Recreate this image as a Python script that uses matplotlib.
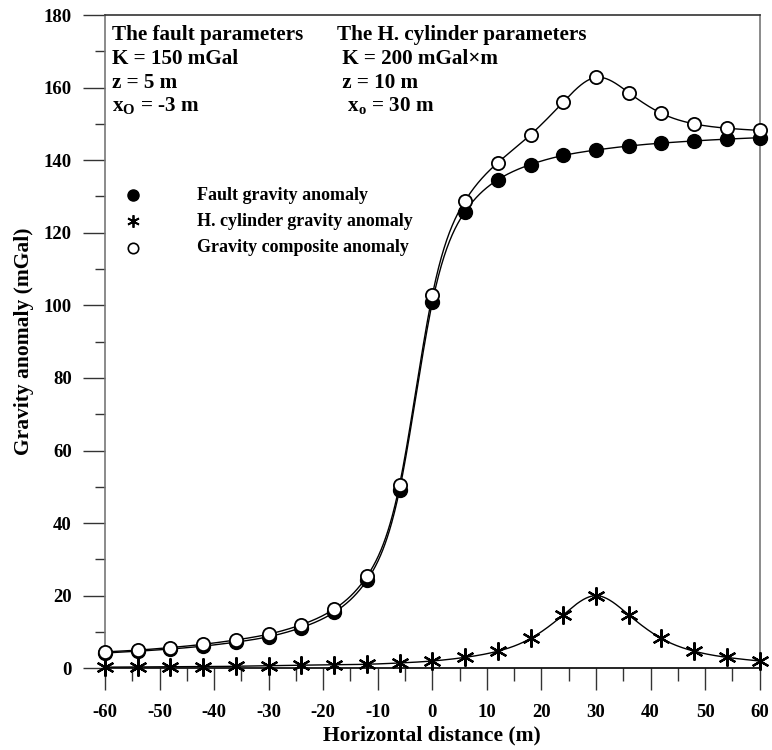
import numpy as np
import matplotlib
matplotlib.use("Agg")
import matplotlib.pyplot as plt
from matplotlib.ticker import MultipleLocator

plt.rcParams['font.family'] = ['Liberation Serif', 'DejaVu Serif']
plt.rcParams['font.weight'] = 'bold'
plt.rcParams['axes.unicode_minus'] = False
plt.rcParams['mathtext.fontset'] = 'custom'
plt.rcParams['mathtext.rm'] = 'Liberation Serif:bold'
plt.rcParams['mathtext.bf'] = 'Liberation Serif:bold'
plt.rcParams['mathtext.it'] = 'Liberation Serif:bold'

# Data
x = [-60, -54, -48, -42, -36, -30, -24, -18, -12, -6, 0, 6, 12, 18, 24, 30, 36, 42, 48, 54, 60]
fault = [4.2, 4.7, 5.3, 6.1, 7.2, 8.7, 11.2, 15.4, 24.2, 49.2, 100.8, 125.8, 134.6, 138.8,
         141.3, 142.8, 143.9, 144.7, 145.3, 145.8, 146.2]
cylinder = [0.3, 0.35, 0.4, 0.45, 0.55, 0.7, 0.85, 0.95, 1.1, 1.45, 2.0, 3.0, 4.7, 8.2,
            14.7, 20.0, 14.7, 8.2, 4.7, 3.0, 2.0]
composite = [4.5, 5.0, 5.7, 6.6, 7.8, 9.4, 12.0, 16.3, 25.3, 50.6, 102.8, 128.8, 139.3, 147.0,
             156.0, 162.8, 158.6, 152.9, 150.0, 148.8, 148.2]

xticks = [-60, -50, -40, -30, -20, -10, 0, 10, 20, 30, 40, 50, 60]
yticks = [0, 20, 40, 60, 80, 100, 120, 140, 160, 180]


def natural_spline(xs, ys, xn):
    xs = np.asarray(xs, float)
    ys = np.asarray(ys, float)
    n = len(xs)
    h = np.diff(xs)
    A = np.zeros((n, n))
    b = np.zeros(n)
    A[0, 0] = 1
    A[-1, -1] = 1
    for i in range(1, n - 1):
        A[i, i - 1] = h[i - 1]
        A[i, i] = 2 * (h[i - 1] + h[i])
        A[i, i + 1] = h[i]
        b[i] = 6 * ((ys[i + 1] - ys[i]) / h[i] - (ys[i] - ys[i - 1]) / h[i - 1])
    M = np.linalg.solve(A, b)
    idx = np.clip(np.searchsorted(xs, xn) - 1, 0, n - 2)
    x0, x1 = xs[idx], xs[idx + 1]
    hh = x1 - x0
    t0 = x1 - xn
    t1 = xn - x0
    return (M[idx] * t0 ** 3 / (6 * hh) + M[idx + 1] * t1 ** 3 / (6 * hh)
            + (ys[idx] / hh - M[idx] * hh / 6) * t0
            + (ys[idx + 1] / hh - M[idx + 1] * hh / 6) * t1)


fig = plt.figure(figsize=(7.72, 7.5), dpi=100)
ax = fig.add_axes([0.136, 0.109, 0.848, 0.871])

xf = np.linspace(min(x), max(x), 1200)
for ys in (fault, cylinder, composite):
    ax.plot(xf, natural_spline(x, ys, xf), color='black', lw=1.0, zorder=2)

ax.plot(x, fault, 'o', ms=10, color='black', zorder=3, clip_on=False)
ax.plot(x, cylinder, marker=(6, 2, 0), ls='none', ms=13, mec='black', mew=1.6,
        zorder=3, clip_on=False)
ax.plot(x, composite, 'o', ms=9.5, mfc='white', mec='black', mew=1.3, zorder=4, clip_on=False)

ax.set_xlim(-60, 60)
ax.set_ylim(0, 180)
ax.set_xticks(xticks)
ax.set_yticks(yticks)
ax.xaxis.set_minor_locator(MultipleLocator(5))
ax.yaxis.set_minor_locator(MultipleLocator(10))
ax.tick_params(axis='both', which='major', direction='out', length=16, width=1.0,
               labelsize=13.5, color='#333333')
ax.tick_params(axis='y', which='major', pad=8)
ax.tick_params(axis='x', which='major', pad=10)
ax.tick_params(axis='y', which='minor', direction='out', length=7, width=1.0, color='#333333')
ax.tick_params(axis='x', which='minor', direction='out', length=9, width=1.0, color='#333333')
for lab in ax.get_xticklabels() + ax.get_yticklabels():
    lab.set_fontweight('bold')

ax.spines['left'].set_color('#777777')
ax.spines['right'].set_color('#777777')
ax.spines['top'].set_color('#333333')
ax.spines['bottom'].set_color('black')
for s in ax.spines.values():
    s.set_linewidth(1.2)

ax.set_xlabel('Horizontal distance (m)', fontsize=15.5, fontweight='bold', labelpad=3)
ax.set_ylabel('Gravity anomaly (mGal)', fontsize=15.5, fontweight='bold', labelpad=7)

# Parameter text
fs = 15.2
left_lines = ['The fault parameters', 'K = 150 mGal', 'z = 5 m', r'x$_\mathbf{O}$ = -3 m']
right_lines = ['The H. cylinder parameters', ' K = 200 mGal\u00d7m', ' z = 10 m', r'  x$_\mathrm{o}$ = 30 m']
ys_px = [35, 59, 83, 106]
for t, yp in zip(left_lines, ys_px):
    fig.text(112 / 772, 1 - yp / 750, t, fontsize=fs, fontweight='bold', va='center', ha='left')
for t, yp in zip(right_lines, ys_px):
    fig.text(337 / 772, 1 - yp / 750, t, fontsize=fs, fontweight='bold', va='center', ha='left')

# Legend (manual)
leg_y = [195, 221, 248]
leg_txt = ['Fault gravity anomaly', 'H. cylinder gravity anomaly', 'Gravity composite anomaly']
mx = 133 / 772
fig.lines.append(plt.Line2D([mx], [1 - leg_y[0] / 750], marker='o', ms=8, color='black',
                            transform=fig.transFigure))
fig.lines.append(plt.Line2D([mx], [1 - leg_y[1] / 750], marker=(6, 2, 0), ms=9, mew=1.3,
                            color='black', transform=fig.transFigure))
fig.lines.append(plt.Line2D([mx], [1 - leg_y[2] / 750], marker='o', ms=7.5, mfc='white',
                            mec='black', mew=1.2, transform=fig.transFigure))
for t, yp in zip(leg_txt, leg_y):
    fig.text(197 / 772, 1 - yp / 750, t, fontsize=13, fontweight='bold', va='center', ha='left')

fig.savefig('out.png', dpi=100)
